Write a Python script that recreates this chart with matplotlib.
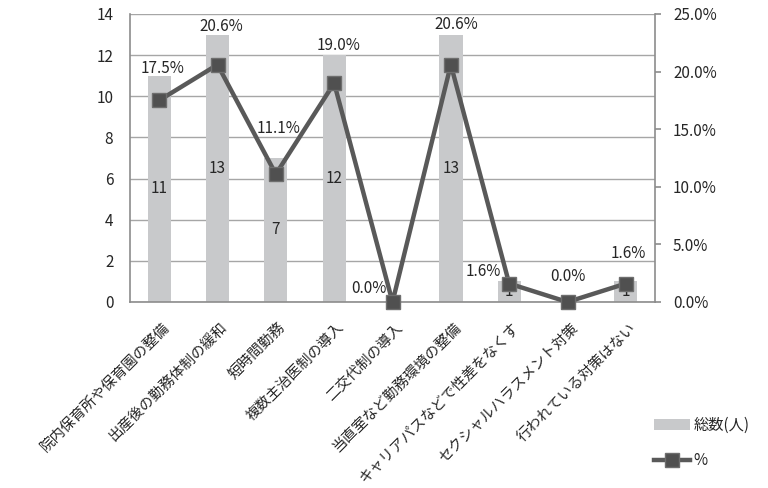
import matplotlib
matplotlib.use("Agg")
import matplotlib.pyplot as plt
import matplotlib.transforms as mtransforms
import numpy as np

plt.rcParams['font.family'] = ['Noto Sans CJK JP', 'DejaVu Sans']

categories = [
    "院内保育所や保育園の整備",
    "出産後の勤務体制の緩和",
    "短時間勤務",
    "複数主治医制の導入",
    "二交代制の導入",
    "当直室など勤務環境の整備",
    "キャリアパスなどで性差をなくす",
    "セクシャルハラスメント対策",
    "行われている対策はない",
]
counts = [11, 13, 7, 12, 0, 13, 1, 0, 1]
percents = [17.5, 20.6, 11.1, 19.0, 0.0, 20.6, 1.6, 0.0, 1.6]

left_ticks = [0, 2, 4, 6, 8, 10, 12, 14]
right_ticks = [0, 5, 10, 15, 20, 25]

# label offsets for the percentage labels (pixels from each marker)
pct_label_offsets = [(3, 32), (4, 38), (3, 46), (4, 38), (-24, 13),
                     (5, 40), (-26, 12), (0, 25), (2, 30)]

bar_color = "#c8c9cb"
line_color = "#595959"
grid_color = "#a6a6a6"
text_color = "#262626"

fig = plt.figure(figsize=(7.68, 4.88), dpi=100)
ax = fig.add_axes([130 / 768, 1 - 302 / 488, 525 / 768, 288 / 488])
x = np.arange(len(categories))

ax.bar(x, counts, width=0.4, color=bar_color, zorder=2, label="総数(人)")
ax.set_xlim(-0.5, len(categories) - 0.5)
ax.set_ylim(0, 14)
ax.set_yticks(left_ticks)
ax.yaxis.grid(True, color=grid_color, linewidth=1.0, zorder=0)
ax.set_axisbelow(True)
ax.tick_params(axis='y', length=0, labelsize=11, labelcolor=text_color, pad=12)
ax.set_xticks(x)
ax.set_xticklabels(categories, rotation=45, ha='right', va='top',
                   rotation_mode='anchor', fontsize=10.5, color=text_color)
ax.tick_params(axis='x', length=0, pad=4)
shift = mtransforms.ScaledTranslation(3 / 100, -13 / 100, fig.dpi_scale_trans)
for lbl in ax.get_xticklabels():
    lbl.set_transform(lbl.get_transform() + shift)
for s in ['left', 'bottom']:
    ax.spines[s].set_color("#8c8c8c")
    ax.spines[s].set_linewidth(1.2)
ax.spines['top'].set_visible(False)
ax.spines['right'].set_visible(False)

for xi, c in zip(x, counts):
    if c > 0:
        ax.text(xi, c / 2, str(c), ha='center', va='center', fontsize=11,
                color=text_color, zorder=3)

ax2 = ax.twinx()
ax2.set_ylim(0, 25)
ax2.set_yticks(right_ticks)
ax2.set_yticklabels([f"{t:.1f}%" for t in right_ticks])
ax2.tick_params(axis='y', length=4, width=1.2, color="#8c8c8c",
                labelsize=11, labelcolor=text_color, pad=9)
for s in ['left', 'bottom', 'top']:
    ax2.spines[s].set_visible(False)
ax2.spines['right'].set_color("#8c8c8c")
ax2.spines['right'].set_linewidth(1.2)

ax2.plot(x, percents, color=line_color, linewidth=3.2, marker='s',
         markersize=10, markerfacecolor="#505050", markeredgecolor="#6e6e6e",
         markeredgewidth=1.0, zorder=4, label="%", clip_on=False)

for xi, p, (dx, dy) in zip(x, percents, pct_label_offsets):
    ax2.annotate(f"{p:.1f}%", (xi, p), xytext=(dx, dy),
                 textcoords='offset pixels', ha='center', va='center',
                 fontsize=11, color=text_color)

h1, l1 = ax.get_legend_handles_labels()
h2, l2 = ax2.get_legend_handles_labels()
fig.legend(h1 + h2, l1 + l2, loc='upper left',
           bbox_to_anchor=(640 / 768, 1 - 403 / 488), frameon=False,
           fontsize=11, handlelength=2.4, handletextpad=0.2,
           labelspacing=1.2, labelcolor=text_color)

fig.savefig("out.png", dpi=100)
